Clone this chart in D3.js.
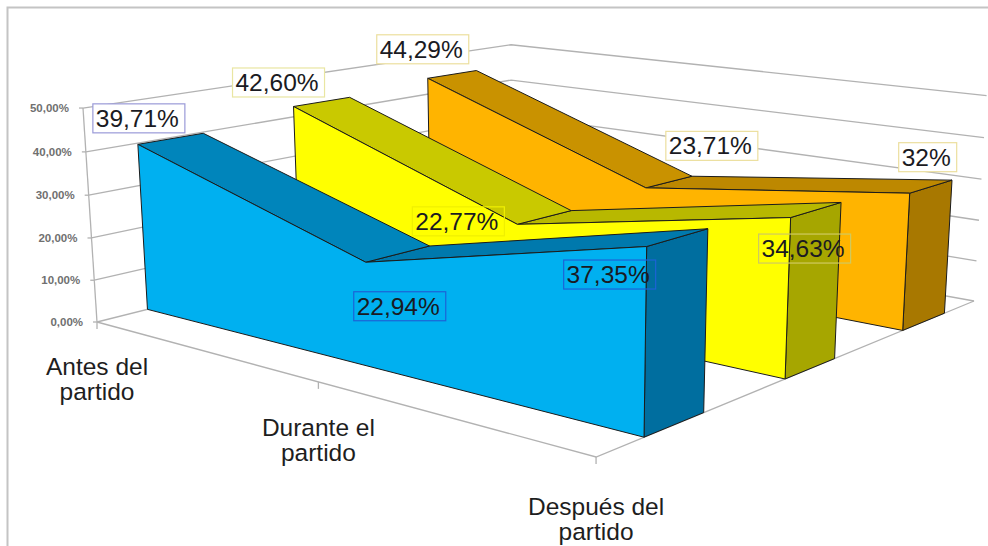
<!DOCTYPE html>
<html><head><meta charset="utf-8">
<script src="https://d3js.org/d3.v7.min.js"></script>
<style>html,body{margin:0;padding:0;background:#fff}svg{display:block}text{font-family:"Liberation Sans",Arial,sans-serif}</style>
</head><body><svg id="c" width="988" height="546"></svg>
<script>
const categories = ["Antes del partido", "Durante el partido", "Después del partido"];
const seriesNames = ["Serie 1", "Serie 2", "Serie 3"];
const serie1 = [39.71, 22.94, 37.35];
const serie2 = [42.60, 22.77, 34.63];
const serie3 = [44.29, 23.71, 32];
const labels1 = ["39,71%", "22,94%", "37,35%"];
const labels2 = ["42,60%", "22,77%", "34,63%"];
const labels3 = ["44,29%", "23,71%", "32%"];
const yTicks = [0, 10, 20, 30, 40, 50];
const yTickLabels = ["0,00%", "10,00%", "20,00%", "30,00%", "40,00%", "50,00%"];

// layout
const uScale = d3.scalePoint().domain(categories).range([0, 1]);
const wScale = d3.scaleBand().domain(seriesNames).range([0, 1]).paddingInner(0.6).paddingOuter(0.3);
const vScale = d3.scaleLinear().domain([0, 50]).range([0, 1]);

// perspective camera: (u along categories, w in depth, v up) -> screen
const cam = { a: 378.3, b: 540.8, c: -16.5, x0: 97, d: 42.4, e: -50.4, f: -217.2, y0: 322, g: -0.2026, h: 0.2458, i: -0.03 };
function project(u, w, v) {
  const k = 1 + cam.g * u + cam.h * w + cam.i * v;
  return [(cam.a * u + cam.b * w + cam.c * v + cam.x0) / k, (cam.d * u + cam.e * w + cam.f * v + cam.y0) / k];
}
const svg = d3.select("#c");
const line = d3.line();
const GRID = "#b2b2b2";

// frame of the picture
svg.append("path").attr("d", "M7.5,546V7.5H988").attr("fill", "none").attr("stroke", "#c4c4c4").attr("stroke-width", 2);

// walls and floor
const gGrid = svg.append("g").attr("fill", "none").attr("stroke", GRID).attr("stroke-width", 1.3);
yTicks.forEach(t => {
  const v = vScale(t);
  gGrid.append("path").attr("d", line([project(0, 0, v), project(0, 1, v), project(1, 1, v)]));
  const p = project(0, 0, v);
  gGrid.append("path").attr("d", line([[p[0] - 4, p[1]], p]));
});
gGrid.append("path").attr("d", line([project(0, 0, 0), project(0, 0, 1)]));
gGrid.append("path").attr("d", line([project(0, 0, 0), project(1, 0, 0), project(1, 1, 0)]));
categories.forEach(c => {
  const p = project(uScale(c), 0, 0);
  gGrid.append("path").attr("d", line([p, [p[0], p[1] + 7]]));
});

// y tick labels
svg.append("g").selectAll("text").data(yTicks).join("text")
  .attr("x", d => project(0, 0, vScale(d))[0] - 14)
  .attr("y", d => project(0, 0, vScale(d))[1] + 4)
  .attr("text-anchor", "end").attr("font-size", 11.5).attr("font-weight", "bold").attr("fill", "#707070")
  .text((d, i) => yTickLabels[i]);

// category labels
const catDrop = [53, 54, 58];
categories.forEach((c, i) => {
  const p = project(uScale(c), 0, 0);
  const words = c.split(" ");
  const lines = [words.slice(0, words.length - 1).join(" "), words[words.length - 1]];
  lines.forEach((t, j) => svg.append("text")
    .attr("x", p[0]).attr("y", p[1] + catDrop[i] + j * 25)
    .attr("text-anchor", "middle").attr("font-size", 24.5).attr("fill", "#1e1e1e").text(t));
});

// ribbons, from back to front
const values = [serie1, serie2, serie3];
const looks = [
  { front: "#00b0f0", top1: "#0085bb", top2: "#0079ad", side: "#006e9f" },
  { front: "#ffff00", top1: "#c9c900", top2: "#b8b800", side: "#a6a600" },
  { front: "#ffb400", top1: "#c99200", top2: "#bd8800", side: "#a87800" }
];
[2, 1, 0].forEach(s => {
  const w0 = wScale(seriesNames[s]), w1 = w0 + wScale.bandwidth();
  const vals = values[s], look = looks[s];
  const g = svg.append("g").attr("stroke", "#1b1b1b").attr("stroke-width", 1).attr("stroke-linejoin", "round");
  const poly = (pts, fill) => g.append("path").attr("d", line(pts) + "Z").attr("fill", fill);
  const U = i => uScale(categories[i]);
  poly([project(1, w0, 0), project(1, w1, 0), project(1, w1, vScale(vals[2])), project(1, w0, vScale(vals[2]))], look.side);
  poly([project(U(1), w0, vScale(vals[1])), project(U(1), w1, vScale(vals[1])), project(U(2), w1, vScale(vals[2])), project(U(2), w0, vScale(vals[2]))], look.top2);
  poly([project(U(0), w0, vScale(vals[0])), project(U(0), w1, vScale(vals[0])), project(U(1), w1, vScale(vals[1])), project(U(1), w0, vScale(vals[1]))], look.top1);
  poly([project(U(0), w0, 0), project(U(2), w0, 0), project(U(2), w0, vScale(vals[2])), project(U(1), w0, vScale(vals[1])), project(U(0), w0, vScale(vals[0]))], look.front);
});

// data labels
const labelTexts = [labels1, labels2, labels3];
const labelOffsets = [
  [[1, -26], [34, 44], [-37, 28]],
  [[-15, -24], [-59, -3], [14, 31]],
  [[-5, -29], [66, -42], [18, -36]]
];
const labelBorders = [
  ["#9a9ad8", "#1c63d6", "#1c63d6"],
  ["#e9e6a2", "#f0f000", "#cfca60"],
  ["#ecdf9e", "#ecdf9e", "#ecdf9e"]
];
const labelFilled = [[true, false, false], [true, false, false], [true, true, true]];
const gLab = svg.append("g");
labelTexts.forEach((arr, s) => arr.forEach((t, i) => {
  const w0 = wScale(seriesNames[s]);
  const p = project(uScale(categories[i]), w0, vScale(values[s][i]));
  const cx = p[0] + labelOffsets[s][i][0], cy = p[1] + labelOffsets[s][i][1];
  const bw = t.length > 3 ? 92 : 58, bh = 29;
  gLab.append("rect").attr("x", cx - bw / 2).attr("y", cy - bh / 2).attr("width", bw).attr("height", bh)
    .attr("fill", labelFilled[s][i] ? "#fff" : "none").attr("stroke", labelBorders[s][i]).attr("stroke-width", 1.2);
  gLab.append("text").attr("x", cx - 1.5).attr("y", cy + 8.5).attr("text-anchor", "middle")
    .attr("font-size", 24.5).attr("fill", "#1a1a22").text(t);
}));
</script></body></html>
